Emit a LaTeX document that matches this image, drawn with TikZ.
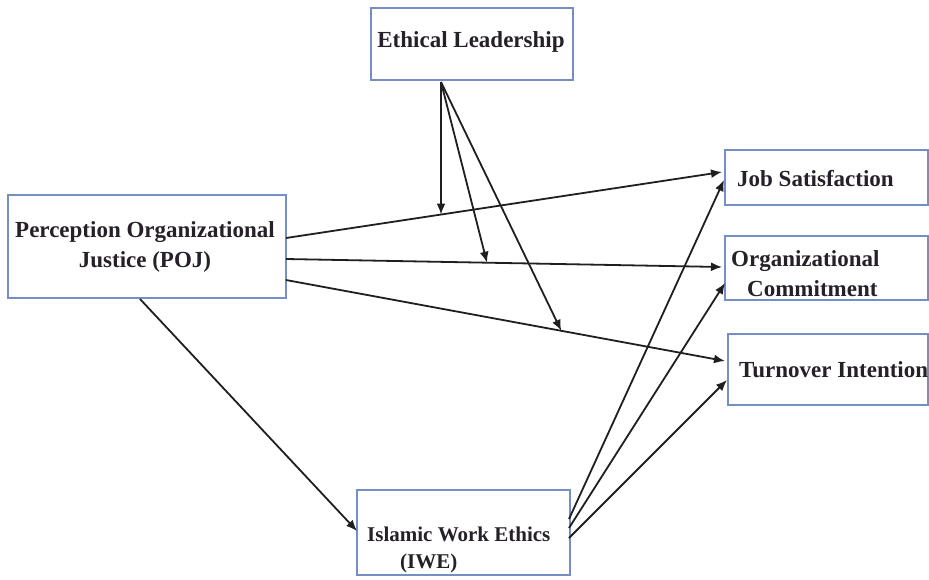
\documentclass[tikz,border=0pt]{standalone}
\usepackage{fontspec}
\setmainfont{Liberation Serif}
\usetikzlibrary{arrows.meta,calc}
\definecolor{boxblue}{RGB}{118,142,198}
\definecolor{txt}{RGB}{38,32,40}
\begin{document}
\begin{tikzpicture}[x=1pt,y=-1pt,
  box/.style={draw=boxblue,line width=1.8pt,fill=white,inner sep=0pt},
  lbl/.style={inner sep=0pt,font=\fontsize{23}{30}\selectfont\bfseries,text=txt},
  conn/.style={line width=1.8pt,draw=black!88,-{Latex[length=11pt,width=9pt]}}]
\useasboundingbox (0,0) rectangle (929,579);
% boxes
\node[box,minimum width=202pt,minimum height=72pt] (el) at (472,44) {};
\node[box,minimum width=278pt,minimum height=103pt] (poj) at (147,246.5) {};
\node[box,minimum width=203pt,minimum height=55pt] (js) at (826.5,177.5) {};
\node[box,minimum width=203pt,minimum height=64pt] (oc) at (826.5,268) {};
\node[box,minimum width=200pt,minimum height=71pt] (ti) at (828,369.5) {};
\node[box,minimum width=213pt,minimum height=85pt] (iwe) at (463.5,532.5) {};
% texts
\node[lbl] (elt) at (471,42) {Ethical Leadership};
\node[lbl,align=center] (pojt) at (145,247) {Perception Organizational\\Justice (POJ)};
\node[lbl,anchor=west] (jst) at (737,179) {Job Satisfaction};
\node[lbl,align=left,anchor=west] (oct) at (731,274) {Organizational\\\hspace*{16pt}Commitment};
\node[lbl,anchor=west] (tit) at (739,370) {Turnover Intention};
\node[lbl,font=\fontsize{21}{27}\selectfont\bfseries,align=left,anchor=west] (iwet) at (367,550) {Islamic Work Ethics\\\hspace*{33pt}(IWE)};
% anchor points
\coordinate (pojA) at (286,238);
\coordinate (pojB) at (286,259);
\coordinate (pojC) at (286,280);
\coordinate (pojD) at (140,299);
\coordinate (jsA) at (722,172);
\coordinate (jsB) at (724,180);
\coordinate (ocA) at (722,267);
\coordinate (ocB) at (725,283);
\coordinate (tiA) at (725,361);
\coordinate (tiB) at (727,380);
\coordinate (iweA) at (569,519);
\coordinate (iweB) at (569,528);
\coordinate (iweC) at (569,538);
\coordinate (iweL) at (357,531);
\coordinate (elB) at (441,82);
% paths
\draw[conn] (pojA) -- (jsA);
\draw[conn] (pojB) -- (ocA);
\draw[conn] (pojC) -- (tiA);
\draw[conn] (pojD) -- (iweL);
\draw[conn] (iweA) -- (jsB);
\draw[conn] (iweB) -- (ocB);
\draw[conn] (iweC) -- (tiB);
\coordinate (m1) at ($(pojA)!0.3555!(jsA)$);
\coordinate (m2) at ($(pojB)!0.461!(ocA)$);
\coordinate (m3) at ($(pojC)!0.627!(tiA)$);
\draw[conn] (elB) -- (m1);
\draw[conn] (elB) -- (m2);
\draw[conn] (elB) -- (m3);
\end{tikzpicture}
\end{document}
